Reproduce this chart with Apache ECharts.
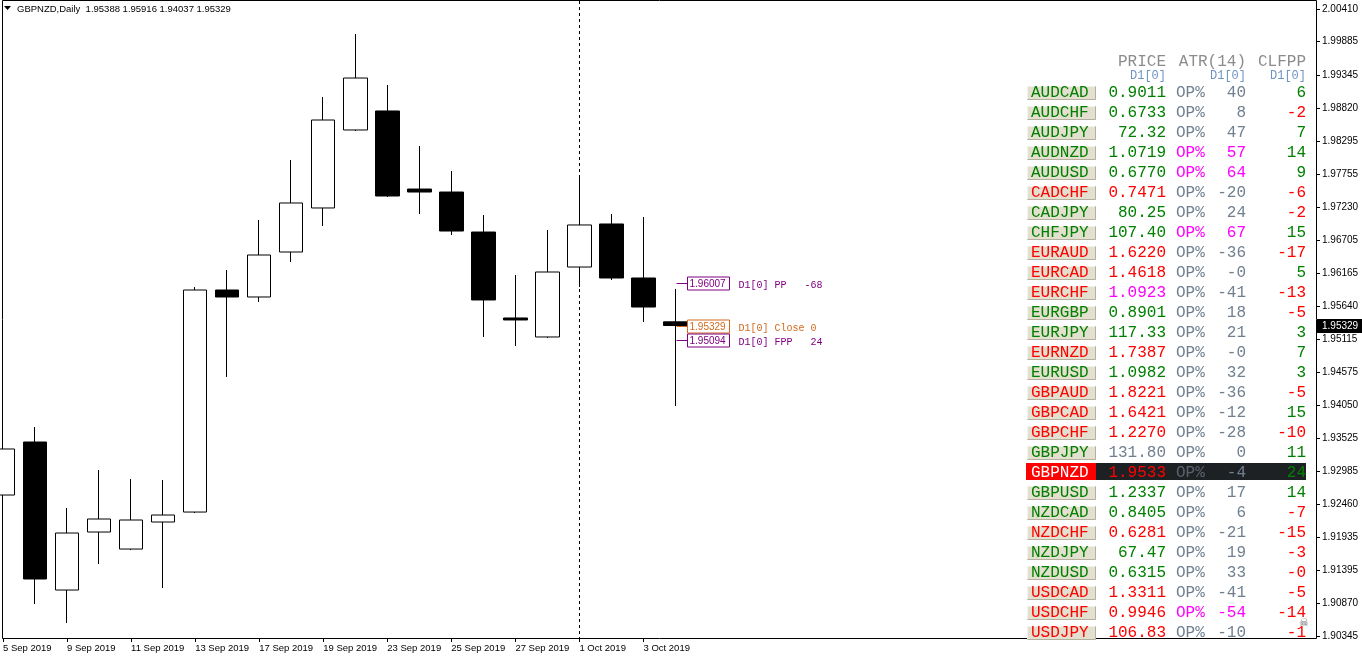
<!DOCTYPE html>
<html><head><meta charset="utf-8">
<script src="https://cdn.jsdelivr.net/npm/echarts@6/dist/echarts.min.js"></script>
<style>html,body{margin:0;padding:0;background:#fff}#c{width:1362px;height:660px}</style>
</head><body><div id="c"></div>
<script>
// ---- price data (daily candles) ----
const dates = ['5 Sep 2019','6 Sep 2019','9 Sep 2019','10 Sep 2019','11 Sep 2019','12 Sep 2019','13 Sep 2019','16 Sep 2019','17 Sep 2019','18 Sep 2019','19 Sep 2019','20 Sep 2019','23 Sep 2019','24 Sep 2019','25 Sep 2019','26 Sep 2019','27 Sep 2019','30 Sep 2019','1 Oct 2019','2 Oct 2019','3 Oct 2019','4 Oct 2019'];
const opens  = [1.92608,1.93459,1.91083,1.92014,1.91741,1.92175,1.92335,1.95899,1.95787,1.96509,1.97216,1.98468,1.98773,1.97520,1.97472,1.96830,1.95450,1.95145,1.96268,1.96959,1.96092,1.95388];
const closes = [1.93347,1.91260,1.91998,1.92223,1.92207,1.92287,1.95899,1.95787,1.96461,1.97296,1.98628,1.99302,1.97408,1.97472,1.96846,1.95739,1.95418,1.96188,1.96943,1.96092,1.95626,1.95329];
const lows   = [1.91517,1.90859,1.90554,1.91501,1.91725,1.91115,1.92319,1.94503,1.95707,1.96349,1.96927,1.98452,1.97392,1.97119,1.96782,1.95145,1.95000,1.95129,1.95947,1.96060,1.95385,1.94037];
const highs  = [1.93620,1.93700,1.92400,1.93010,1.92865,1.92849,1.95947,1.96220,1.97023,1.97986,1.98997,2.00009,1.99190,1.98211,1.97809,1.97103,1.96140,1.96862,1.97713,1.97119,1.97071,1.95916];
const yTicks = [2.00410,1.99885,1.99345,1.98820,1.98295,1.97755,1.97230,1.96705,1.96165,1.95640,1.95115,1.94575,1.94050,1.93525,1.92985,1.92460,1.91935,1.91395,1.90870,1.90345];
const separatorDate = '1 Oct 2019';
// ---- pivot levels ----
const pivotValues = [1.96007, 1.95329, 1.95094];
const pivotTexts  = ['D1[0] PP   -68', 'D1[0] Close 0', 'D1[0] FPP   24'];
const pivotColors = ['#800080', '#d2691e', '#800080'];
// ---- dashboard table ----
const pairs   = ['AUDCAD','AUDCHF','AUDJPY','AUDNZD','AUDUSD','CADCHF','CADJPY','CHFJPY','EURAUD','EURCAD','EURCHF','EURGBP','EURJPY','EURNZD','EURUSD','GBPAUD','GBPCAD','GBPCHF','GBPJPY','GBPNZD','GBPUSD','NZDCAD','NZDCHF','NZDJPY','NZDUSD','USDCAD','USDCHF','USDJPY'];
const prices  = ['0.9011','0.6733','72.32','1.0719','0.6770','0.7471','80.25','107.40','1.6220','1.4618','1.0923','0.8901','117.33','1.7387','1.0982','1.8221','1.6421','1.2270','131.80','1.9533','1.2337','0.8405','0.6281','67.47','0.6315','1.3311','0.9946','106.83'];
const atrVals = ['40','8','47','57','64','-20','24','67','-36','-0','-41','18','21','-0','32','-36','-12','-28','0','-4','17','6','-21','19','33','-41','-54','-10'];
const clfpp   = ['6','-2','7','14','9','-6','-2','15','-17','5','-13','-5','3','7','3','-5','15','-10','11','24','14','-7','-15','-3','-0','-5','-14','-1'];
const pairCol  = ['g','g','g','g','g','r','g','g','r','r','r','g','g','r','g','r','r','r','g','w','g','g','r','g','g','r','r','r'];
const priceCol = ['g','g','g','g','g','r','g','g','r','r','m','g','g','r','g','r','r','r','n','r','g','g','r','g','g','r','r','r'];
const atrCol   = ['n','n','n','m','m','n','n','m','n','n','n','n','n','n','n','n','n','n','n','n','n','n','n','n','n','n','m','n'];
const clfCol   = ['g','r','g','g','g','r','r','g','r','g','r','r','g','g','g','r','g','r','g','g','g','r','r','r','r','r','r','r'];
const highlightRow = 'GBPNZD';
const headers = ['PRICE','ATR(14)','CLFPP'];
const subHeaders = ['D1[0]','D1[0]','D1[0]'];
const titleText = 'GBPNZD,Daily  1.95388 1.95916 1.94037 1.95329';

const COLORS = {g:'#008000', r:'#ff0000', m:'#ff00ff', n:'#708090', w:'#ffffff'};
const MONO = 'Liberation Mono';
const SANS = 'Liberation Sans';

const padCount = 20;
const axisCats = dates.concat(Array.from({length: padCount}, (_, i) => 'pad' + i));
const showTick = (idx) => idx < dates.length && idx % 2 === 0;

const graphics = [];
// chart frame
graphics.push({type:'rect', shape:{x:2.5, y:0.5, width:1314, height:638}, style:{fill:null, stroke:'#000', lineWidth:1}, silent:true, z:0});
// title
graphics.push({type:'polygon', shape:{points:[[4,6],[11,6],[7.5,10]]}, style:{fill:'#000'}, z:10});
graphics.push({type:'text', x:17, y:9, style:{text:titleText, font:'9.5px ' + SANS, fill:'#000', verticalAlign:'middle'}, z:10});
// table headers
const headRight = [1166, 1246, 1306];
headers.forEach((h, i) => {
  graphics.push({type:'text', x:headRight[i], y:62, style:{text:h, font:'16px ' + MONO, fill:'#8c8c8c', align:'right', verticalAlign:'middle'}, z:10});
  graphics.push({type:'text', x:headRight[i], y:75.5, style:{text:subHeaders[i], font:'12px ' + MONO, fill:'#6f93c0', align:'right', verticalAlign:'middle'}, z:10});
});
pairs.forEach((p, i) => {
  const c = 92 + 20 * i;
  const hl = p === highlightRow;
  if (hl) {
    graphics.push({type:'rect', shape:{x:1026, y:c-9, width:70, height:17}, style:{fill:'#ff0000'}, z:9});
    graphics.push({type:'rect', shape:{x:1096, y:c-9, width:210, height:17}, style:{fill:'#1e2124'}, z:9});
  } else {
    graphics.push({type:'rect', shape:{x:1027, y:c-6, width:69, height:14}, style:{fill:'#e4e0cf'}, z:9});
    graphics.push({type:'polyline', shape:{points:[[1027.5,c+7.5],[1095.5,c+7.5],[1095.5,c-5.5]]}, style:{stroke:'#b4b09e', lineWidth:1, fill:null}, z:9});
    graphics.push({type:'polyline', shape:{points:[[1027.5,c+7],[1027.5,c-5.5],[1095,c-5.5]]}, style:{stroke:'#f4f2ea', lineWidth:1, fill:null}, z:9});
  }
  graphics.push({type:'text', x:1031, y:c+1, style:{text:p, font:'16px ' + MONO, fill:COLORS[pairCol[i]], verticalAlign:'middle'}, z:10});
  graphics.push({type:'text', x:1166, y:c+1, style:{text:prices[i], font:'16px ' + MONO, fill:COLORS[priceCol[i]], align:'right', verticalAlign:'middle'}, z:10});
  graphics.push({type:'text', x:1176, y:c+1, style:{text:'OP%', font:'16px ' + MONO, fill:hl ? '#5a6470' : COLORS[atrCol[i]], verticalAlign:'middle'}, z:10});
  graphics.push({type:'text', x:1246, y:c+1, style:{text:atrVals[i], font:'16px ' + MONO, fill:COLORS[atrCol[i]], align:'right', verticalAlign:'middle'}, z:10});
  graphics.push({type:'text', x:1306, y:c+1, style:{text:clfpp[i], font:'16px ' + MONO, fill:COLORS[clfCol[i]], align:'right', verticalAlign:'middle'}, z:10});
});
graphics.push({type:'text', x:1299, y:623, style:{text:'\u2620', font:'11px DejaVu Sans', fill:'#6a6a6a', verticalAlign:'middle'}, z:11});

const chart = echarts.init(document.getElementById('c'), null, {renderer:'canvas'});
chart.setOption({
  animation: false,
  backgroundColor: '#ffffff',
  grid: {left: 3, right: 46, top: 9, bottom: 24, containLabel: false},
  xAxis: {
    type: 'category', data: axisCats, boundaryGap: false, offset: 3,
    axisLine: {show: false},
    axisTick: {show: true, interval: showTick, length: 3, lineStyle: {color: '#000'}},
    axisLabel: {interval: showTick, align: 'left', margin: 4, fontSize: 9.5, fontFamily: SANS, color: '#000',
      formatter: v => dates.indexOf(v) >= 0 ? v : ''},
    splitLine: {show: false}
  },
  yAxis: {
    type: 'value', position: 'right', min: yTicks[yTicks.length - 1], max: yTicks[0], scale: true,
    axisLine: {show: false},
    axisTick: {show: true, length: 4, customValues: yTicks, lineStyle: {color: '#000'}},
    axisLabel: {customValues: yTicks, margin: 6, fontSize: 10, fontFamily: SANS, color: '#000', formatter: v => v.toFixed(5)},
    splitLine: {show: false}
  },
  graphic: graphics,
  series: [
    {
      type: 'candlestick', name: 'GBPNZD', barWidth: 24, clip: false,
      data: dates.map((d, i) => [opens[i], closes[i], lows[i], highs[i]]),
      itemStyle: {color: '#ffffff', color0: '#000000', borderColor: '#000000', borderColor0: '#000000', borderWidth: 1}
    },
    {
      type: 'custom', name: 'separator', silent: true, z: 1,
      data: [[dates.indexOf(separatorDate), yTicks[0]]],
      renderItem: (params, api) => {
        const x = Math.round(api.coord([api.value(0), api.value(1)])[0]) + 0.5;
        return {type:'line', shape:{x1:x, y1:1, x2:x, y2:638}, style:{stroke:'#000', lineWidth:1, lineDash:[3,3]}};
      }
    },
    {
      type: 'custom', name: 'pivots', silent: true, z: 5,
      data: pivotValues.map((v, i) => [dates.length - 1, v, i]),
      renderItem: (params, api) => {
        const i = api.value(2);
        const p = api.coord([api.value(0), api.value(1)]);
        const x = Math.round(p[0]) + 0.5, y = Math.round(p[1]) + 0.5;
        const col = pivotColors[i];
        return {type:'group', children:[
          {type:'line', shape:{x1:x, y1:y, x2:x + 11, y2:y}, style:{stroke:col, lineWidth:1}},
          {type:'rect', shape:{x:x + 11, y:y - 6.5, width:42, height:13}, style:{fill:'#fff', stroke:col, lineWidth:1}},
          {type:'text', style:{x:x + 13, y:y + 0.5, text:api.value(1).toFixed(5), fill:col, font:'10px ' + SANS, verticalAlign:'middle'}},
          {type:'text', style:{x:x + 62, y:y + 2, text:pivotTexts[i], fill:col, font:'10px ' + MONO, verticalAlign:'middle'}}
        ]};
      }
    },
    {
      type: 'custom', name: 'lastPrice', silent: true, z: 6,
      data: [[dates.length - 1, closes[closes.length - 1]]],
      renderItem: (params, api) => {
        const p = api.coord([api.value(0), api.value(1)]);
        const cs = params.coordSys;
        const x = cs.x + cs.width + 1, y = Math.round(p[1]);
        return {type:'group', children:[
          {type:'rect', shape:{x:x, y:y - 7, width:45, height:14}, style:{fill:'#000'}},
          {type:'text', style:{x:x + 5, y:y, text:api.value(1).toFixed(5), fill:'#fff', font:'10px ' + SANS, verticalAlign:'middle'}}
        ]};
      }
    }
  ]
});
</script>
</body></html>
